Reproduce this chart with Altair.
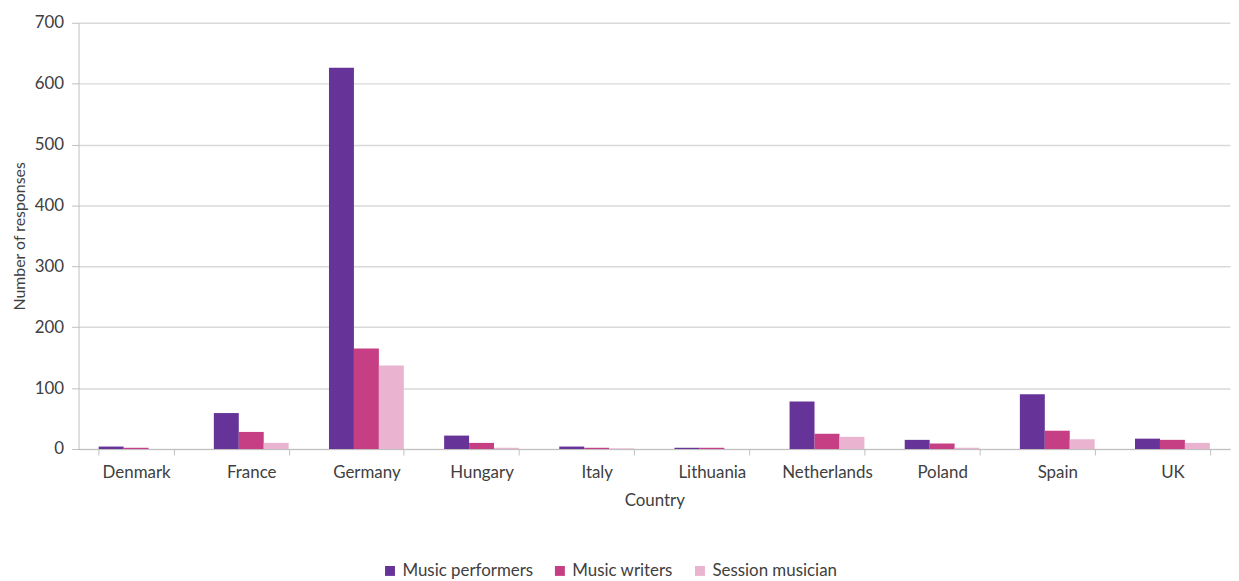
import altair as alt
import pandas as pd

countries = ["Denmark", "France", "Germany", "Hungary", "Italy", "Lithuania",
             "Netherlands", "Poland", "Spain", "UK"]
series = ["Music performers", "Music writers", "Session musician"]
performers = [4, 59, 626, 22, 4, 2, 78, 15, 90, 17]
writers = [2, 28, 165, 10, 2, 2, 25, 9, 30, 15]
session = [0, 10, 137, 2, 1, 0, 20, 2, 16, 10]
colors = ["#663399", "#C63F84", "#EAB4D0"]

rows = []
for i, c in enumerate(countries):
    for s, vals in zip(series, [performers, writers, session]):
        rows.append({"Country": c, "Series": s, "Value": vals[i]})
df = pd.DataFrame(rows)

font = "Lato"
chart = alt.Chart(df).mark_bar().encode(
    x=alt.X("Country:N", sort=countries,
            scale=alt.Scale(paddingInner=0.35, paddingOuter=0.175),
            axis=alt.Axis(title="Country", labelAngle=0, tickBand="extent",
                          ticks=True, tickSize=6, labelPadding=10, titlePadding=12,
                          domainColor="#BFBFBF", tickColor="#BFBFBF",
                          labelFontSize=17, titleFontSize=17,
                          labelColor="#404040", titleColor="#404040",
                          labelFont=font, titleFont=font, titleFontWeight="normal")),
    xOffset=alt.XOffset("Series:N", sort=series),
    y=alt.Y("Value:Q", scale=alt.Scale(domain=[0, 700]),
            axis=alt.Axis(title="Number of responses", values=list(range(0, 701, 100)),
                          ticks=True, tickSize=7, labelPadding=8, titlePadding=7,
                          domain=True, domainColor="#BFBFBF", tickColor="#BFBFBF",
                          gridColor="#D9D9D9", gridWidth=1.5,
                          labelFontSize=17, titleFontSize=16,
                          labelColor="#404040", titleColor="#404040",
                          labelFont=font, titleFont=font, titleFontWeight="normal")),
    color=alt.Color("Series:N", sort=series,
                    scale=alt.Scale(domain=series, range=colors),
                    legend=alt.Legend(title=None, orient="none", direction="horizontal",
                                      legendX=305, legendY=543,
                                      symbolType="square", symbolSize=100,
                                      symbolStrokeWidth=0,
                                      labelFontSize=17, labelFont=font,
                                      labelColor="#404040", columnPadding=18)),
).properties(
    width=1159, height=429,
    autosize=alt.AutoSizeParams(type="none"),
    padding={"left": 71, "top": 13, "right": 1, "bottom": 131},
).configure_view(stroke=None)

chart.save("out.html", embed_options={"renderer": "svg", "actions": False})
